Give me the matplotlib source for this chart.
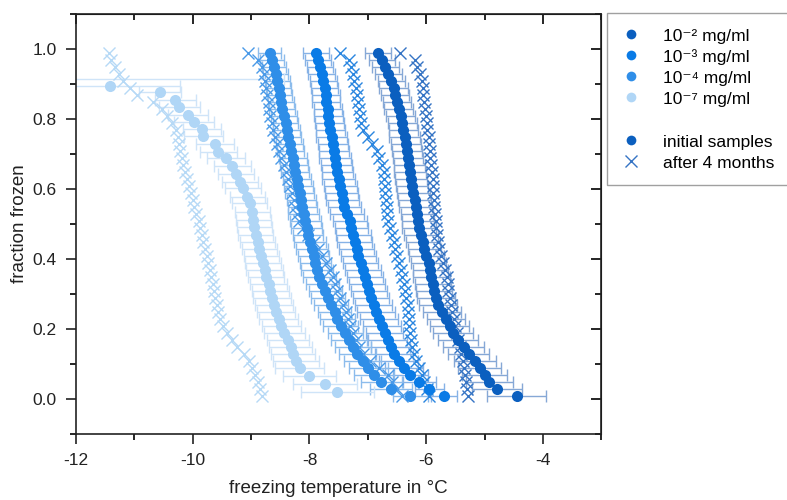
import matplotlib
matplotlib.use("Agg")
import matplotlib.pyplot as plt
from matplotlib.lines import Line2D

plt.rcParams['font.family'] = ['Liberation Sans', 'DejaVu Sans']
plt.rcParams['axes.unicode_minus'] = False

# fraction frozen levels shared by most series
y50 = [0.99, 0.97, 0.95, 0.93, 0.91, 0.89, 0.87, 0.85, 0.83, 0.81,
       0.79, 0.77, 0.75, 0.73, 0.71, 0.69, 0.67, 0.65, 0.63, 0.61,
       0.59, 0.57, 0.55, 0.53, 0.51, 0.49, 0.47, 0.45, 0.43, 0.41,
       0.39, 0.37, 0.35, 0.33, 0.31, 0.29, 0.27, 0.25, 0.23, 0.21,
       0.19, 0.17, 0.15, 0.13, 0.11, 0.09, 0.07, 0.05, 0.03, 0.01]

# 10^-2 mg/ml
t2_init = [-6.83, -6.76, -6.70, -6.65, -6.60, -6.56, -6.53, -6.50, -6.47, -6.44,
           -6.41, -6.39, -6.37, -6.35, -6.33, -6.31, -6.29, -6.28, -6.26, -6.24,
           -6.22, -6.20, -6.18, -6.16, -6.14, -6.12, -6.09, -6.06, -6.03, -6.00,
           -5.96, -5.93, -5.91, -5.88, -5.86, -5.83, -5.80, -5.73, -5.66, -5.60,
           -5.54, -5.45, -5.36, -5.27, -5.17, -5.08, -5.00, -4.92, -4.78, -4.45]
e2_init = [0.22, 0.22, 0.23, 0.23, 0.23, 0.24, 0.24, 0.24, 0.25, 0.25,
           0.25, 0.25, 0.26, 0.26, 0.26, 0.26, 0.27, 0.27, 0.27, 0.27,
           0.28, 0.28, 0.28, 0.28, 0.28, 0.29, 0.29, 0.29, 0.29, 0.30,
           0.30, 0.30, 0.31, 0.31, 0.31, 0.32, 0.32, 0.32, 0.33, 0.33,
           0.34, 0.34, 0.35, 0.35, 0.36, 0.37, 0.38, 0.40, 0.43, 0.50]
t2_after = [-6.45, -6.20, -6.15, -6.11, -6.07, -6.06, -6.05, -6.03, -6.02, -6.01,
            -5.99, -5.98, -5.96, -5.95, -5.94, -5.93, -5.92, -5.90, -5.89, -5.89,
            -5.88, -5.87, -5.86, -5.85, -5.84, -5.83, -5.81, -5.80, -5.78, -5.74,
            -5.71, -5.67, -5.65, -5.63, -5.62, -5.60, -5.58, -5.56, -5.53, -5.51,
            -5.48, -5.45, -5.42, -5.40, -5.37, -5.35, -5.33, -5.32, -5.30, -5.28]

# 10^-3 mg/ml
t3_init = [-7.89, -7.85, -7.82, -7.79, -7.76, -7.74, -7.72, -7.71, -7.69, -7.68,
           -7.66, -7.64, -7.62, -7.60, -7.58, -7.56, -7.54, -7.52, -7.50, -7.47,
           -7.45, -7.43, -7.40, -7.36, -7.31, -7.28, -7.25, -7.22, -7.19, -7.16,
           -7.12, -7.08, -7.05, -7.01, -6.98, -6.94, -6.90, -6.86, -6.81, -6.76,
           -6.71, -6.66, -6.61, -6.55, -6.47, -6.38, -6.27, -6.12, -5.95, -5.70]
e3_init = [0.22, 0.22, 0.22, 0.23, 0.23, 0.23, 0.24, 0.24, 0.24, 0.25,
           0.25, 0.25, 0.26, 0.26, 0.26, 0.27, 0.27, 0.27, 0.28, 0.28,
           0.28, 0.28, 0.29, 0.29, 0.29, 0.29, 0.30, 0.30, 0.30, 0.30,
           0.30, 0.31, 0.31, 0.31, 0.31, 0.31, 0.32, 0.32, 0.32, 0.32,
           0.32, 0.33, 0.33, 0.33, 0.33, 0.32, 0.30, 0.28, 0.25, 0.22]
t3_after = [-7.47, -7.32, -7.28, -7.25, -7.23, -7.21, -7.19, -7.17, -7.15, -7.13,
            -7.11, -7.08, -7.00, -6.92, -6.85, -6.80, -6.76, -6.73, -6.72, -6.71,
            -6.70, -6.69, -6.68, -6.67, -6.65, -6.62, -6.59, -6.56, -6.53, -6.50,
            -6.47, -6.44, -6.41, -6.38, -6.36, -6.34, -6.32, -6.31, -6.30, -6.29,
            -6.28, -6.26, -6.24, -6.21, -6.18, -6.13, -6.08, -6.03, -5.99, -5.95]

# 10^-4 mg/ml
t4_init = [-8.68, -8.64, -8.61, -8.58, -8.55, -8.53, -8.51, -8.49, -8.47, -8.44,
           -8.41, -8.39, -8.37, -8.34, -8.32, -8.29, -8.27, -8.24, -8.21, -8.19,
           -8.17, -8.14, -8.12, -8.10, -8.07, -8.05, -8.02, -7.99, -7.96, -7.93,
           -7.90, -7.87, -7.83, -7.78, -7.73, -7.68, -7.63, -7.57, -7.52, -7.46,
           -7.39, -7.32, -7.25, -7.18, -7.09, -6.99, -6.89, -6.77, -6.60, -6.27]
e4_init = [0.20, 0.20, 0.20, 0.21, 0.21, 0.21, 0.21, 0.22, 0.22, 0.22,
           0.22, 0.23, 0.23, 0.23, 0.23, 0.24, 0.24, 0.24, 0.24, 0.25,
           0.25, 0.25, 0.25, 0.26, 0.26, 0.26, 0.26, 0.27, 0.27, 0.27,
           0.27, 0.28, 0.28, 0.28, 0.28, 0.29, 0.29, 0.29, 0.30, 0.30,
           0.30, 0.31, 0.31, 0.32, 0.32, 0.33, 0.34, 0.35, 0.36, 0.30]
t4_after = [-9.05, -8.88, -8.82, -8.78, -8.76, -8.74, -8.72, -8.70, -8.69, -8.67,
            -8.65, -8.62, -8.59, -8.55, -8.52, -8.48, -8.44, -8.41, -8.37, -8.34,
            -8.30, -8.27, -8.24, -8.21, -8.18, -8.11, -8.02, -7.93, -7.85, -7.78,
            -7.71, -7.64, -7.60, -7.56, -7.52, -7.47, -7.43, -7.38, -7.34, -7.30,
            -7.25, -7.20, -7.15, -7.08, -6.96, -6.80, -6.66, -6.58, -6.50, -6.42]

# one 10^-4 sample with a very wide lower error
t4_wide = [-8.55]
y4_wide = [0.914]
e4_wide_lo = [3.55]
e4_wide_hi = [0.12]

# 10^-7 mg/ml
y7_init = [0.894, 0.877, 0.854, 0.834, 0.811, 0.791, 0.771, 0.751, 0.729, 0.706,
           0.689, 0.666, 0.643, 0.620, 0.603, 0.577, 0.560, 0.534, 0.511, 0.491,
           0.470, 0.450, 0.430, 0.410, 0.390, 0.370, 0.350, 0.330, 0.310, 0.290,
           0.270, 0.250, 0.230, 0.210, 0.190, 0.170, 0.150, 0.130, 0.110, 0.090,
           0.065, 0.043, 0.020]
t7_init = [-11.42, -10.56, -10.30, -10.23, -10.08, -9.98, -9.84, -9.82, -9.62, -9.56,
           -9.43, -9.32, -9.26, -9.19, -9.14, -9.07, -9.02, -8.98, -8.96, -8.95,
           -8.92, -8.89, -8.86, -8.83, -8.80, -8.77, -8.74, -8.70, -8.67, -8.64,
           -8.61, -8.57, -8.53, -8.48, -8.43, -8.37, -8.32, -8.28, -8.23, -8.17,
           -8.00, -7.73, -7.52]
e7_init = [1.20, 0.36, 0.35, 0.35, 0.34, 0.34, 0.33, 0.33, 0.33, 0.32,
           0.32, 0.32, 0.31, 0.31, 0.31, 0.30, 0.30, 0.30, 0.30, 0.30,
           0.30, 0.30, 0.30, 0.30, 0.31, 0.31, 0.31, 0.32, 0.32, 0.32,
           0.33, 0.33, 0.34, 0.34, 0.35, 0.36, 0.37, 0.38, 0.40, 0.42,
           0.45, 0.55, 0.62]
t7_after = [-11.43, -11.40, -11.33, -11.26, -11.19, -11.08, -10.95, -10.68, -10.53, -10.44,
            -10.35, -10.28, -10.25, -10.23, -10.21, -10.18, -10.16, -10.13, -10.10, -10.07,
            -10.03, -10.00, -9.97, -9.94, -9.90, -9.87, -9.84, -9.82, -9.79, -9.76,
            -9.74, -9.71, -9.69, -9.66, -9.64, -9.62, -9.59, -9.56, -9.53, -9.48,
            -9.41, -9.33, -9.24, -9.12, -9.04, -8.98, -8.93, -8.89, -8.85, -8.81]

labels = ['10\u207b\u00b2 mg/ml', '10\u207b\u00b3 mg/ml', '10\u207b\u2074 mg/ml', '10\u207b\u2077 mg/ml']
colors = ['#0b5fbf', '#0a7be6', '#2f8ee8', '#b0d6f6']
err_colors = ['#86a8d6', '#86b2e6', '#8cbcec', '#cfe4f8']
cross_colors = ['#3574c4', '#2a86e0', '#4a9ae8', '#b6d9f6']

fig = plt.figure(figsize=(7.87, 5.0), dpi=100)
ax = fig.add_axes([0.0966, 0.132, 0.6674, 0.84])

inits = [(t2_init, y50, e2_init), (t3_init, y50, e3_init), (t4_init, y50, e4_init), (t7_init, y7_init, e7_init)]
afters = [(t2_after, y50), (t3_after, y50), (t4_after, y50), (t7_after, y50)]

# error bars underneath everything
for (t, y, e), ec in zip(inits, err_colors):
    ax.errorbar(t, y, xerr=e, fmt='none', ecolor=ec, elinewidth=1.0, capsize=4, capthick=1.0, zorder=1)
ax.errorbar(t4_wide, y4_wide, xerr=[e4_wide_lo, e4_wide_hi], fmt='none', ecolor=err_colors[3],
            elinewidth=1.0, capsize=4, capthick=1.0, zorder=1)

for (t, y), c in zip(afters, cross_colors):
    ax.plot(t, y, ls='none', marker='x', ms=9, mew=1.0, color=c, zorder=2)

for (t, y, e), c in zip(inits, colors):
    ax.plot(t, y, ls='none', marker='o', ms=8, mew=0, color=c, zorder=3)

ax.set_xlim(-12, -3)
ax.set_ylim(-0.1, 1.1)
ax.set_xticks([-12, -10, -8, -6, -4])
ax.set_xticks([-11, -9, -7, -5, -3], minor=True)
ax.set_yticks([0.0, 0.2, 0.4, 0.6, 0.8, 1.0])
ax.set_yticks([-0.1, 0.1, 0.3, 0.5, 0.7, 0.9, 1.1], minor=True)
ax.set_yticklabels(['0.0', '0.2', '0.4', '0.6', '0.8', '1.0'])
ax.tick_params(which='major', direction='out', length=7, width=1.2, labelsize=12.5, colors='#222222', pad=7)
ax.tick_params(which='minor', direction='out', length=4, width=1.2)
for s in ax.spines.values():
    s.set_linewidth(1.2)
    s.set_color('#222222')

# top and right ticks point inward, no labels
top = ax.secondary_xaxis('top')
top.set_xticks([-12, -10, -8, -6, -4])
top.set_xticks([-11, -9, -7, -5, -3], minor=True)
top.tick_params(which='major', direction='in', length=7, width=1.2, labeltop=False)
top.tick_params(which='minor', direction='in', length=4, width=1.2)
right = ax.secondary_yaxis('right')
right.set_yticks([0.0, 0.2, 0.4, 0.6, 0.8, 1.0])
right.set_yticks([-0.1, 0.1, 0.3, 0.5, 0.7, 0.9, 1.1], minor=True)
right.tick_params(which='major', direction='in', length=7, width=1.2, labelright=False)
right.tick_params(which='minor', direction='in', length=4, width=1.2)

ax.set_xlabel('freezing temperature in °C', fontsize=13.5, color='#222222', labelpad=8)
ax.set_ylabel('fraction frozen', fontsize=13.5, color='#222222', labelpad=3)

handles = [Line2D([], [], ls='none', marker='o', ms=7, mew=0, color=c) for c in colors]
handles.append(Line2D([], [], ls='none'))
handles.append(Line2D([], [], ls='none', marker='o', ms=7, mew=0, color=colors[0]))
handles.append(Line2D([], [], ls='none', marker='x', ms=9, mew=1.0, color=cross_colors[0]))
leg_labels = labels + [' ', 'initial samples', 'after 4 months']
leg = fig.legend(handles, leg_labels, loc='upper left', bbox_to_anchor=(607 / 787, 1 - 13 / 500),
                 fontsize=12.5, frameon=True, fancybox=False, edgecolor='#888888',
                 handlelength=1.2, handleheight=1.0, handletextpad=1.2, labelspacing=0.26,
                 borderpad=0.8, borderaxespad=0)
leg.get_frame().set_linewidth(1.0)

fig.savefig('out.png', dpi=100)
